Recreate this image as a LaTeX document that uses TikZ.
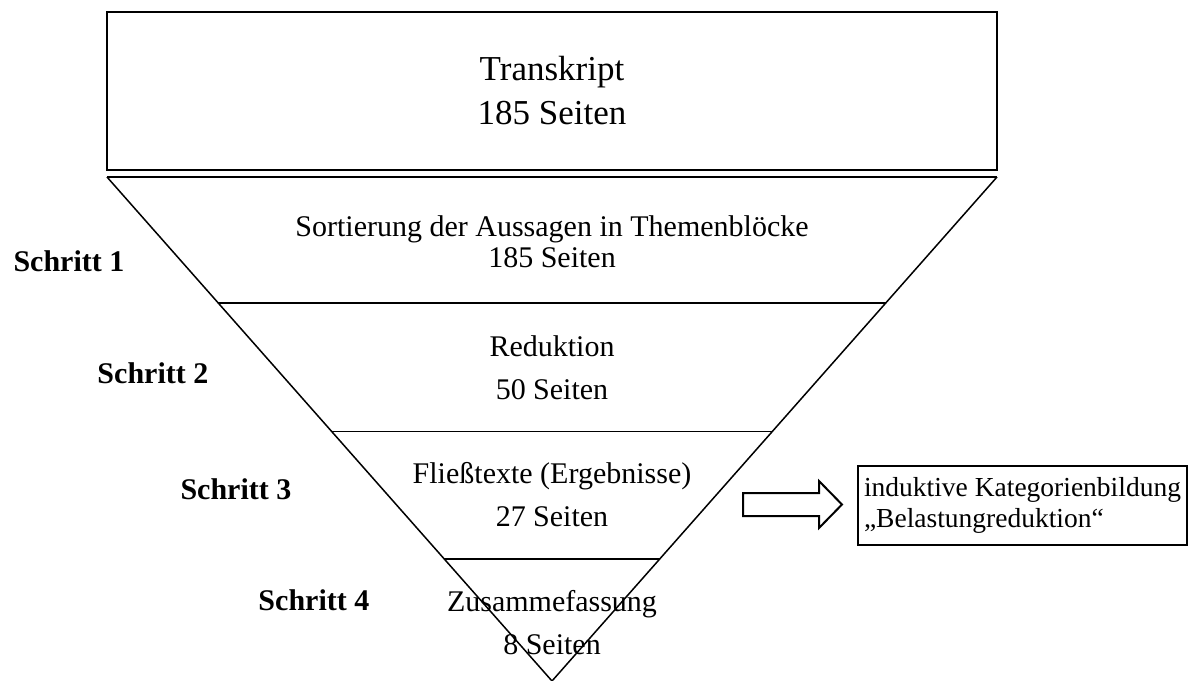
\documentclass[tikz,border=0pt]{standalone}
\usepackage{fontspec}
\setmainfont{Liberation Serif}
\usetikzlibrary{calc}

\begin{document}
\begin{tikzpicture}[x=0.4pt, y=-0.4pt,
  stage/.style={align=center, inner sep=0pt, font=\fontsize{12}{17.4}\selectfont},
  steplabel/.style={anchor=west, inner sep=0pt, font=\fontsize{12}{14}\selectfont\bfseries},
  thinline/.style={line width=0.6pt},
  boxline/.style={line width=0.8pt}
]
  \useasboundingbox (0,0) rectangle (1189,681);
  \node[draw, boxline, minimum width=356pt, minimum height=63.2pt, align=center, font=\fontsize{14}{17.6}\selectfont] (transkript) at (552,91) {Transkript\\185 Seiten};

  \coordinate (tl) at (107,177);
  \coordinate (tr) at (997,177);
  \coordinate (tip) at (552,681);
  \draw[boxline] (tl) -- (tr);
  \draw[thinline] (tl) -- (tip) -- (tr);
  \foreach \t in {0.25,0.505,0.758}
    \draw[thinline] ($(tl)!\t!(tip)$) -- ($(tr)!\t!(tip)$);

  \node[stage, font=\fontsize{12}{12.4}\selectfont] (sort) at (552,241.5) {Sortierung der Aussagen in Themenblöcke\\185 Seiten};
  \node[stage] (red) at (552,367.5) {Reduktion\\50 Seiten};
  \node[stage] (fliess) at (552,494.5) {Fließtexte (Ergebnisse)\\27 Seiten};
  \node[stage] (zus) at (552,622.5) {Zusammefassung\\8 Seiten};

  \node[steplabel] (s1) at (13,261) {Schritt 1};
  \node[steplabel] (s2) at (97,373) {Schritt 2};
  \node[steplabel] (s3) at (180,489) {Schritt 3};
  \node[steplabel] (s4) at (258,600) {Schritt 4};

  \node[draw, boxline, align=left, inner sep=0pt, minimum width=131.6pt, minimum height=31.6pt, font=\fontsize{11}{12.4}\selectfont] (induktiv) at (1022.5,505.5) {induktive Kategorienbildung\\„Belastungreduktion“};

  \draw[boxline] (743,493) -- (819,493) -- (819,481) -- (842,504.5) -- (819,528) -- (819,516) -- (743,516) -- cycle;
\end{tikzpicture}
\end{document}
